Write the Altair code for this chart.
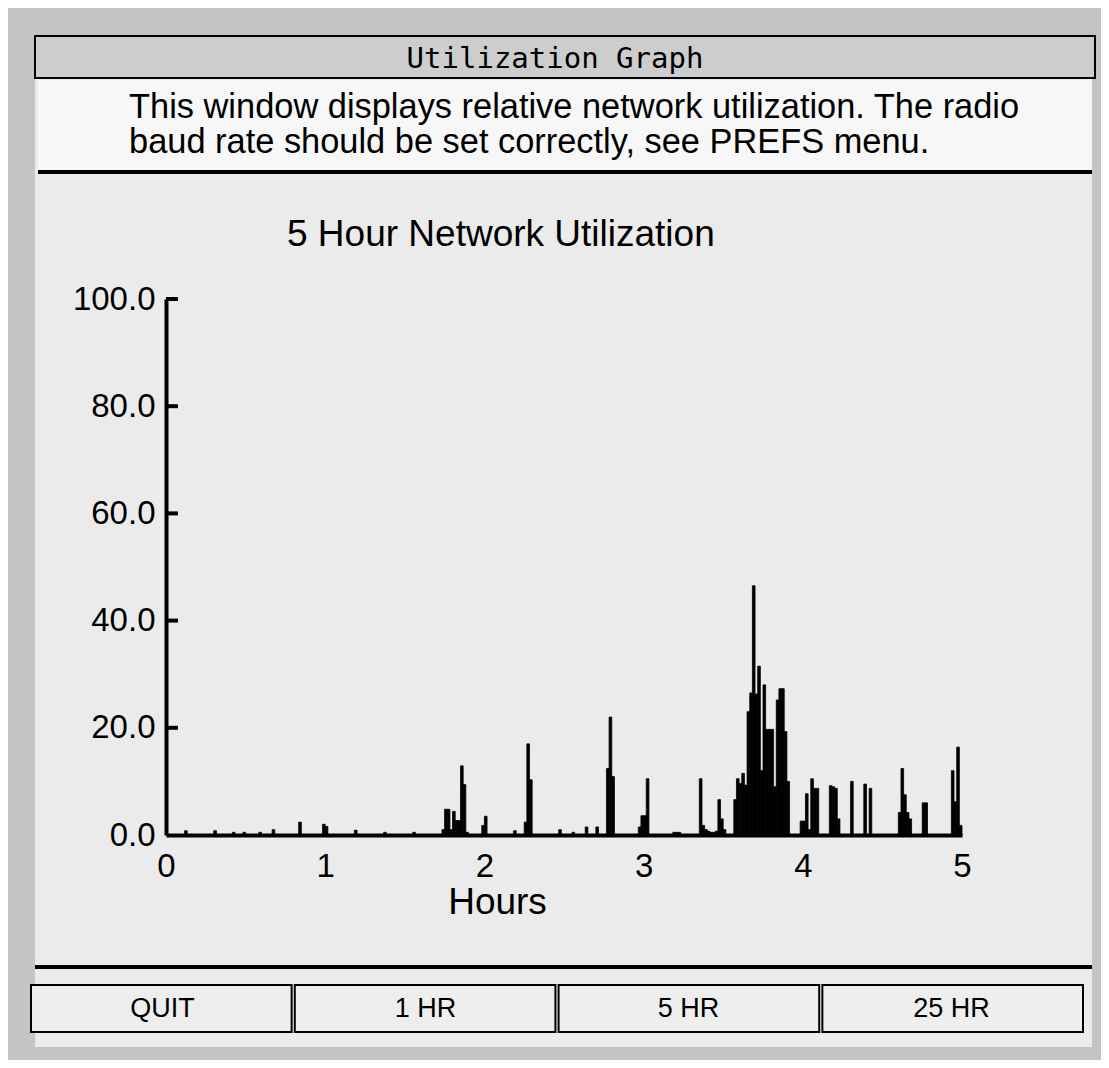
import altair as alt
import pandas as pd

# ---------------- data ----------------
minutes = [7, 18, 25, 29, 35, 40, 50, 59, 60, 71, 82, 93,
           104, 105, 106, 107, 108, 109, 110, 111, 112, 113,
           119, 120, 131, 135, 136, 137, 148, 153, 158, 162,
           166, 167, 168, 178, 179, 180, 181, 191, 192, 193,
           201, 202, 203, 204, 205, 206, 207, 208, 209, 210,
           214, 215, 216, 217, 218, 219, 220, 221, 222, 223, 224, 225, 226,
           227, 228, 229, 230, 231, 232, 233, 234,
           239, 240, 241, 242, 243, 244, 245,
           250, 251, 252, 253, 258, 263, 265,
           276, 277, 278, 279, 280, 285, 286,
           296, 297, 298, 299]
utilization = [0.8, 0.8, 0.5, 0.5, 0.5, 1.0, 2.4, 2.0, 1.6, 0.9, 0.5, 0.5,
               1.0, 4.8, 4.8, 1.0, 4.4, 2.7, 2.7, 12.9, 9.4, 0.5,
               1.8, 3.5, 0.8, 2.4, 17.0, 10.3, 1.0, 0.5, 1.5, 1.5,
               12.4, 22.0, 10.9, 1.5, 3.6, 3.6, 10.5, 0.5, 0.5, 0.5,
               10.5, 1.8, 1.0, 0.7, 0.5, 0.5, 0.7, 6.6, 3.0, 1.0,
               6.6, 10.5, 9.6, 11.5, 9.3, 23.0, 26.5, 46.5, 26.3, 31.5, 12.0, 28.0, 19.7,
               19.7, 19.7, 9.0, 25.2, 27.3, 27.3, 19.3, 10.0,
               2.6, 2.6, 7.7, 1.0, 10.5, 8.7, 8.7,
               9.2, 9.0, 8.7, 3.0, 10.0, 9.5, 8.7,
               4.2, 12.4, 7.5, 4.2, 3.0, 6.0, 6.0,
               12.0, 6.2, 16.4, 1.8]

y_ticks = [0, 20, 40, 60, 80, 100]
x_ticks = [0, 1, 2, 3, 4, 5]
buttons = ["QUIT", "1 HR", "5 HR", "25 HR"]
window_title = "Utilization Graph"
info_lines = ["This window displays relative network utilization. The radio",
              "baud rate should be set correctly, see PREFS menu."]
chart_title = "5 Hour Network Utilization"
x_title = "Hours"

# ---------------- tables ----------------
df = pd.DataFrame({
    "start": [m / 60 for m in minutes],
    "end": [(m + 1) / 60 for m in minutes],
    "util": utilization,
})
tick_df = pd.DataFrame({"util": y_ticks[1:]})
btn_df = pd.DataFrame({"b": buttons})
one = pd.DataFrame({"k": [0]})

FONT = "Liberation Sans"
W, H = 796, 536

xs = alt.Scale(domain=[0, 5], nice=False, zero=False)
ys = alt.Scale(domain=[0, 100], nice=False)

x_axis = alt.Axis(values=x_ticks, format="d", title=x_title, ticks=False,
                  grid=False, domainWidth=4, domainColor="black",
                  labelFont=FONT, labelFontSize=33, labelColor="black",
                  labelBaseline="alphabetic", labelPadding=41,
                  titleFont=FONT, titleFontSize=37, titleFontWeight="normal",
                  titleColor="black", titleBaseline="alphabetic",
                  titleX=331, titleY=78, titleAnchor="middle",
                  labelFlush=False, zindex=1)
y_axis = alt.Axis(values=y_ticks, format=".1f", title=None, ticks=False,
                  grid=False, domainWidth=4, domainColor="black",
                  labelFont=FONT, labelFontSize=33, labelColor="black",
                  labelPadding=11, labelFlush=False, zindex=1)

bars = alt.Chart(df).mark_rect(color="black", stroke="black", strokeWidth=0.8).encode(
    x=alt.X("start:Q", scale=xs, axis=x_axis),
    x2="end:Q",
    y=alt.Y("util:Q", scale=ys, axis=y_axis),
    y2=alt.Y2Datum(0),
)

yticks = alt.Chart(tick_df).mark_rule(color="black", strokeWidth=4).encode(
    x=alt.XDatum(0, type="quantitative", scale=xs, axis=None),
    x2=alt.X2Datum(0.075),
    y=alt.Y("util:Q", scale=ys, axis=y_axis),
)


def box(x, x2, y, y2, fill, stroke=None, sw=0):
    kw = dict(fill=fill)
    if stroke:
        kw.update(stroke=stroke, strokeWidth=sw)
    return alt.Chart(one).mark_rect(**kw).encode(
        x=alt.value(x), x2=alt.value(x2), y=alt.value(y), y2=alt.value(y2))


def label(text, x, y, size, font=FONT, align="left"):
    return alt.Chart(pd.DataFrame({"t": [text]})).mark_text(
        font=font, fontSize=size, color="black", baseline="alphabetic", align=align
    ).encode(text="t:N", x=alt.value(x), y=alt.value(y))


GRAY = "#c4c4c4"
frame = [
    box(-158, -131, -291, 761, GRAY),
    box(926, 935, -291, 761, GRAY),
    box(-158, 935, -291, -263, GRAY),
    box(-158, 935, 748, 761, GRAY),
    box(-131, 929, -263, -221, "#cdcdcd", "black", 2),
    box(-128, 926, -219, -127, "#f7f7f7"),
    box(-128, 926, -129, -125, "black"),
    box(-131, 926, 666, 670, "black"),
]

texts = [
    label(window_title, 389, -231, 29, font="DejaVu Sans Mono", align="center"),
    label(info_lines[0], -37, -181, 34.4),
    label(info_lines[1], -37, -146, 34.4),
    label(chart_title, 121, -53, 37),
]

bscale = alt.Scale(domain=buttons, range=[-135, 917], paddingInner=0.012, paddingOuter=0)
btn_rect = alt.Chart(btn_df).mark_bar(fill="#eeeeee", stroke="black", strokeWidth=2).encode(
    x=alt.X("b:N", sort=buttons, scale=bscale, axis=None),
    y=alt.value(686), y2=alt.value(733))
btn_text = alt.Chart(btn_df).mark_text(
    font=FONT, fontSize=27, color="black", baseline="alphabetic").encode(
    x=alt.X("b:N", sort=buttons, scale=bscale, axis=None),
    y=alt.value(718), text="b:N")

chart = alt.layer(
    *frame, *texts, btn_rect, btn_text, bars, yticks
).resolve_scale(x="independent").properties(
    width=W, height=H,
    padding={"left": 158, "top": 291, "right": 139, "bottom": 225},
    autosize=alt.AutoSizeParams(type="none"),
    background="#ebebeb",
).configure_view(stroke=None)

chart.save("out.html", embed_options={"renderer": "svg", "actions": False})
